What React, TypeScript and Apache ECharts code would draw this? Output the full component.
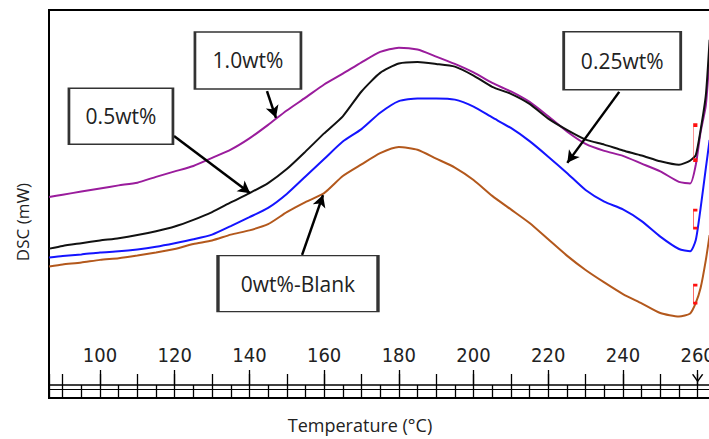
import React, { useEffect, useRef } from 'react';
import * as echarts from 'echarts';

// Temperature (°C) sample points
const temperatures = [86.4, 90, 95, 100, 105, 110, 115, 120, 125, 130, 135, 140, 145, 150, 155, 160, 165, 170, 175, 180, 185, 190, 195, 200, 205, 210, 215, 220, 225, 230, 235, 240, 245, 250, 255, 258, 259.5, 260.8, 262.2, 263.2];

// DSC signal (arbitrary mW scale, 0-100 over plot height)
const dsc10 = [51.8, 52.4, 53.2, 54.0, 54.8, 55.5, 57.0, 58.4, 59.8, 61.9, 64.0, 66.9, 70.4, 74.1, 77.4, 80.8, 83.6, 86.5, 89.2, 90.3, 89.8, 88.0, 86.1, 83.9, 81.2, 79.0, 76.3, 72.6, 68.7, 65.5, 63.7, 62.4, 60.4, 58.4, 55.7, 55.3, 60.1, 68.6, 75.5, 88.4];
const dsc05 = [38.5, 39.2, 39.9, 40.6, 41.2, 42.0, 43.0, 44.2, 45.9, 47.9, 50.4, 52.8, 55.4, 59.0, 63.5, 68.2, 72.6, 79.0, 83.8, 86.2, 86.6, 86.1, 85.4, 83.1, 80.2, 78.4, 75.8, 72.0, 69.1, 66.6, 65.3, 63.8, 62.5, 61.0, 60.1, 61.2, 62.6, 69.1, 78.1, 92.3];
const dsc025 = [36.2, 36.6, 37.0, 37.5, 37.8, 38.3, 39.0, 39.9, 40.9, 42.1, 44.3, 46.6, 49.0, 52.6, 57.1, 61.6, 66.1, 69.3, 73.5, 76.5, 77.2, 77.2, 76.9, 75.1, 72.3, 69.6, 66.2, 62.2, 58.0, 53.6, 50.6, 48.6, 45.6, 41.6, 38.4, 37.8, 40.7, 49.0, 59.3, 66.5];
const dsc0 = [33.9, 34.4, 34.9, 35.6, 36.0, 36.7, 37.5, 38.4, 39.7, 40.6, 42.1, 43.2, 44.8, 47.9, 50.5, 52.8, 57.2, 60.2, 63.1, 64.7, 64.0, 61.7, 59.4, 56.2, 52.1, 48.6, 45.1, 40.9, 36.7, 33.0, 29.8, 26.8, 24.4, 21.9, 21.0, 21.8, 24.5, 28.4, 35.6, 42.0];

// Annotation boxes: [label, T, DSC]
const boxLabels = ['1.0wt%', '0.5wt%', '0.25wt%', '0wt%-Blank'];
const boxT = [139.6, 105.6, 239.8, 153.0];
const boxV = [87.0, 72.6, 86.9, 29.5];
// Arrows: from (T,DSC) to (T,DSC)
const arrowFrom = [[144.7, 79.1], [119.8, 67.5], [239.0, 78.9], [154.1, 36.9]];
const arrowTo = [[147.1, 72.2], [140.2, 52.8], [225.1, 60.6], [159.7, 52.3]];
// Red brackets near 260 °C: [T, DSC]
const bracketPos = [[259.4, 65.8], [259.4, 46.1], [259.4, 26.8]];

const X_MIN = 86.34;
const X_MAX = 270;

const tickFont = "'Liberation Sans Narrow', 'DejaVu Sans Condensed', 'Arial Narrow', sans-serif";
const textFont = "'Open Sans', 'Noto Sans', sans-serif";

export default function App() {
  const ref = useRef<HTMLDivElement>(null);
  useEffect(() => {
    const chart = echarts.init(ref.current!, null, { renderer: 'svg' });
    const baseX: any = {
      type: 'value',
      min: X_MIN,
      max: X_MAX,
      position: 'bottom',
      gridIndex: 0,
      splitLine: { show: false },
      axisLabel: { show: false },
      axisTick: { show: false },
      axisLine: { show: false },
    };
    const mk = (name: string, vals: number[], color: string) => ({
      type: 'line',
      name,
      data: temperatures.map((t, i) => [t, vals[i]]),
      showSymbol: false,
      symbol: 'none',
      smooth: 0.2,
      silent: true,
      lineStyle: { color, width: 2 },
      xAxisIndex: 0,
      yAxisIndex: 0,
    });
    const boxSizes = [[106, 57], [104, 56], [117, 58], [160, 56]];
    const bracketSizes = [35, 18, 18];
    const brown: any = mk('0wt%-Blank', dsc0, '#b3581c');
    brown.markLine = {
      silent: true,
      symbol: ['none', 'arrow'],
      symbolSize: [10, 12],
      label: { show: false },
      lineStyle: { color: '#000', width: 2.5, type: 'solid' },
      data: arrowFrom.map((f, i) => [{ coord: f }, { coord: arrowTo[i] }]),
    };
    brown.markPoint = {
      silent: true,
      data: [
        ...boxLabels.map((txt, i) => ({
          coord: [boxT[i], boxV[i]],
          symbol: 'rect',
          symbolSize: boxSizes[i],
          itemStyle: { color: '#fff', borderColor: '#333', borderWidth: 2 },
          label: {
            show: true,
            position: 'inside',
            formatter: txt,
            color: '#222',
            fontSize: 21,
            fontFamily: textFont,
          },
        })),
        ...bracketPos.map((p, i) => ({
          coord: p,
          symbol: 'path://M4,0L0,0L0,10L4,10',
          symbolSize: [4, bracketSizes[i]],
          itemStyle: { color: 'none', borderColor: '#ff1010', borderWidth: 1.3 },
          label: { show: false },
        })),
        {
          coord: [260, 5.2],
          symbol: 'path://M0,0L5,7L10,0',
          symbolSize: [10, 7],
          itemStyle: { color: 'none', borderColor: '#000', borderWidth: 1.3 },
          label: { show: false },
        },
      ],
    };
    chart.setOption({
      animation: false,
      backgroundColor: '#fff',
      grid: {
        left: 49,
        top: 10,
        width: 686,
        bottom: 41,
        show: true,
        borderColor: '#000',
        borderWidth: 2,
        backgroundColor: 'transparent',
        outerBoundsMode: 'none',
        containLabel: false,
      },
      xAxis: [
        {
          ...baseX,
          minInterval: 5,
          maxInterval: 5,
          axisLine: { show: true, onZero: false, lineStyle: { color: '#000', width: 2 } },
          axisTick: { show: true, inside: true, length: 13, lineStyle: { color: '#000', width: 1.3 } },
        },
        {
          ...baseX,
          offset: -13,
          minInterval: 10,
          maxInterval: 10,
          axisLine: { show: true, onZero: false, lineStyle: { color: '#000', width: 1.5 } },
          axisTick: { show: true, inside: true, length: 11, lineStyle: { color: '#000', width: 1.3 } },
        },
        {
          ...baseX,
          offset: -9,
          minInterval: 10,
          maxInterval: 10,
          axisLine: { show: true, onZero: false, lineStyle: { color: '#000', width: 1 } },
        },
        {
          ...baseX,
          offset: -13,
          minInterval: 20,
          maxInterval: 20,
          axisTick: { show: true, inside: true, length: 15, lineStyle: { color: '#000', width: 1.3 } },
          axisLabel: {
            show: true,
            inside: true,
            margin: 20,
            showMinLabel: false,
            showMaxLabel: false,
            color: '#222',
            fontSize: 20,
            fontFamily: tickFont,
            formatter: (v: number) => (Math.abs(v % 20) < 1e-6 ? String(Math.round(v)) : ''),
          },
        },
      ],
      yAxis: {
        type: 'value',
        min: 0,
        max: 100,
        axisLine: { show: false },
        axisTick: { show: false },
        axisLabel: { show: false },
        splitLine: { show: false },
      },
      graphic: [
        {
          type: 'text',
          x: 360,
          y: 425,
          style: {
            text: 'Temperature (°C)',
            fontSize: 18,
            fontFamily: textFont,
            fill: '#222',
            align: 'center',
            verticalAlign: 'middle',
          },
        },
        {
          type: 'text',
          x: 22,
          y: 222,
          rotation: Math.PI / 2,
          style: {
            text: 'DSC (mW)',
            fontSize: 17,
            fontFamily: textFont,
            fill: '#222',
            align: 'center',
            verticalAlign: 'middle',
          },
        },
      ],
      series: [
        mk('1.0wt%', dsc10, '#9a1c9c'),
        mk('0.5wt%', dsc05, '#111111'),
        mk('0.25wt%', dsc025, '#1414ff'),
        brown,
      ],
    });
    return () => chart.dispose();
  }, []);
  return (
    <div
      ref={ref}
      style={{ position: 'fixed', left: 0, top: 0, width: 709, height: 439 }}
    />
  );
}
